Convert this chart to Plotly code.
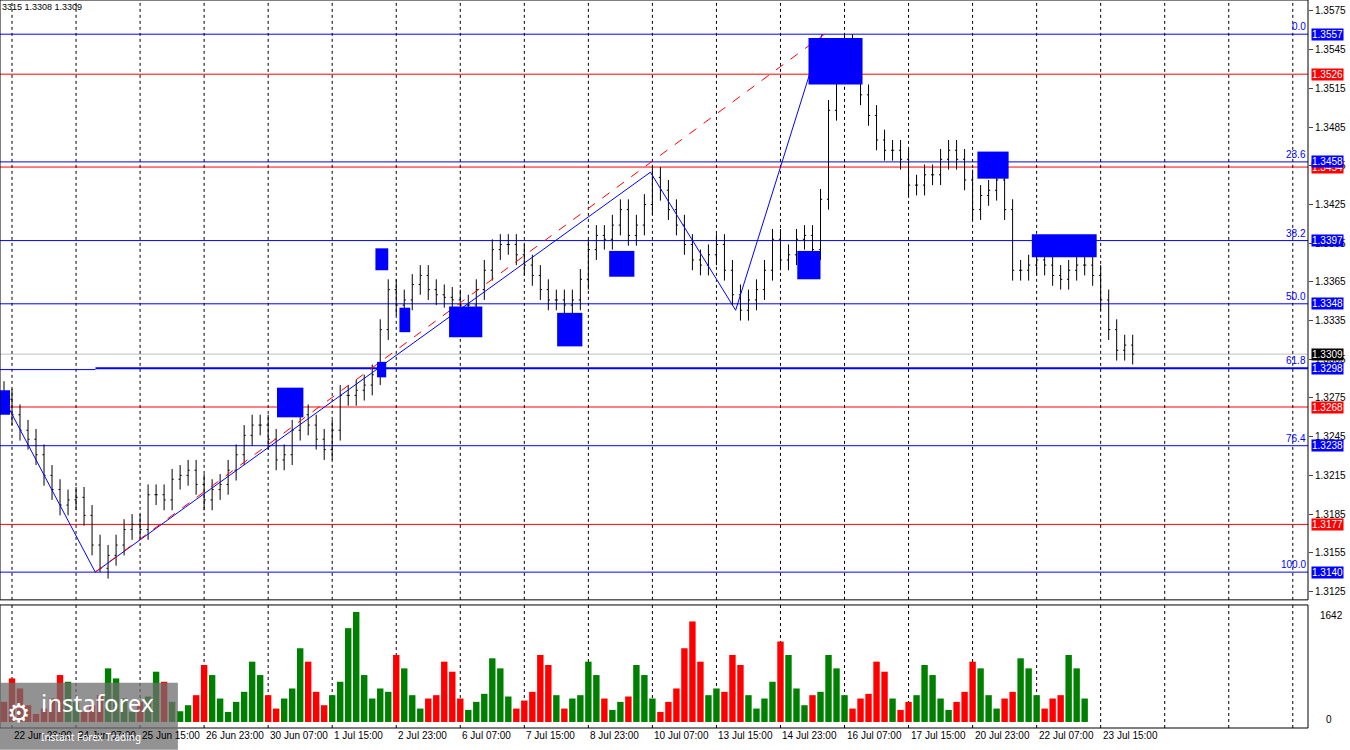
import plotly.graph_objects as go

closes = [1.3274,1.3262,1.3250,1.3243,1.3231,1.3215,1.3204,1.3192,1.3196,1.3198,
1.3184,1.3161,1.3143,1.3153,1.3161,1.3173,1.3177,1.3173,1.3200,1.3200,
1.3196,1.3212,1.3215,1.3219,1.3208,1.3196,1.3204,1.3208,1.3219,1.3231,
1.3246,1.3254,1.3254,1.3243,1.3227,1.3231,1.3250,1.3262,1.3254,1.3243,
1.3235,1.3250,1.3277,1.3277,1.3281,1.3285,1.3293,1.3328,1.3359,1.3347,
1.3351,1.3363,1.3370,1.3359,1.3355,1.3353,1.3351,1.3347,1.3347,1.3359,
1.3374,1.3390,1.3394,1.3394,1.3386,1.3378,1.3370,1.3359,1.3351,1.3351,
1.3347,1.3351,1.3367,1.3390,1.3401,1.3398,1.3409,1.3421,1.3401,1.3409,
1.3425,1.3446,1.3436,1.3421,1.3409,1.3394,1.3382,1.3378,1.3386,1.3394,
1.3374,1.3355,1.3343,1.3351,1.3359,1.3374,1.3398,1.3382,1.3386,1.3398,
1.3401,1.3390,1.3429,1.3498,1.3537,1.3549,1.3529,1.3510,1.3494,1.3475,
1.3467,1.3467,1.3460,1.3440,1.3440,1.3448,1.3448,1.3460,1.3467,1.3460,
1.3444,1.3421,1.3432,1.3436,1.3444,1.3421,1.3374,1.3374,1.3378,1.3382,
1.3378,1.3370,1.3367,1.3374,1.3378,1.3378,1.3370,1.3351,1.3328,1.3312,
1.3316,1.3309]
first_open = 1.3280
wick = [0.0008]*len(closes)
volumes = [300,650,500,250,120,200, 350,700,600,300,150,250, 400,800,650,350,150,300,
 380,750,600,300,160,250, 400,850,700,350,150,300, 450,900,700,400,200,350,
 500,1100,900,450,250,400, 600,1400,1642,700,350,500, 450,1000,800,400,200,350,
 400,900,750,350,180,300, 420,950,800,380,200,320, 450,1000,850,400,200,350,
 400,900,700,350,180,300, 380,850,700,350,150,300, 500,1100,1500,900,400,500,
 450,1000,850,400,200,350, 600,1200,1000,500,250,400, 450,1000,800,400,200,350,
 420,900,750,350,180,300, 400,850,700,350,180,300, 450,900,800,400,200,350,
 450,950,800,400,200,350, 400,1000,800,350]
tick_labels = ["22 Jun 23:00","24 Jun 07:00","25 Jun 15:00","26 Jun 23:00","30 Jun 07:00",
 "1 Jul 15:00","2 Jul 23:00","6 Jul 07:00","7 Jul 15:00","8 Jul 23:00","10 Jul 07:00",
 "13 Jul 15:00","14 Jul 23:00","16 Jul 07:00","17 Jul 15:00","20 Jul 23:00","22 Jul 07:00","23 Jul 15:00"]
fib_levels = [1.3557,1.3458,1.3397,1.3348,1.3298,1.3238,1.3140]
fib_names = ["0.0","23.6","38.2","50.0","61.8","76.4","100.0"]
red_levels = [1.3526,1.3454,1.3268,1.3177]
current = 1.3309
axis_ticks = [1.3575,1.3545,1.3515,1.3485,1.3455,1.3425,1.3395,1.3365,1.3335,1.3305,1.3275,1.3245,1.3215,1.3185,1.3155,1.3125]
boxes = [(-0.5,0.75,1.3281,1.3262),(34.1,37.4,1.3283,1.3260),(46.4,48,1.3391,1.3374),
 (49.4,50.75,1.3345,1.3326),(55.6,59.75,1.3346,1.3322),(69.1,72.25,1.3341,1.3315),
 (75.6,78.75,1.3389,1.3369),(99.1,102,1.3389,1.3367),(100.5,107.25,1.3554,1.3518),
 (121.6,125.5,1.3466,1.3445),(128.4,136.5,1.3402,1.3384),(46.6,47.75,1.3303,1.3291)]
trend_blue = [[(-0.5,1.3280),(11.4,1.3140)],[(11.4,1.3140),(80.75,1.3450)],
 [(80.75,1.3450),(91.4,1.3343),(102.2,1.3557)]]
trend_red = [(11.4,1.3140),(102.5,1.3557)]

n = len(closes)
idx = list(range(n))
opens = [first_open] + closes[:-1]
highs = [max(o, c) + w for o, c, w in zip(opens, closes, wick)]
lows = [min(o, c) - w for o, c, w in zip(opens, closes, wick)]
highs[105] = 1.3557
lows[12] = 1.3140
vcol = ["#008000" if c >= o else "#ff0000" for o, c in zip(opens, closes)]

fig = go.Figure()
fig.add_trace(go.Ohlc(x=idx, open=opens, high=highs, low=lows, close=closes,
    increasing_line_color="black", decreasing_line_color="black", line_width=1,
    tickwidth=0.2, xaxis="x", yaxis="y", showlegend=False))
fig.add_trace(go.Bar(x=idx, y=volumes, marker_color=vcol, marker_line_width=0,
    width=0.8, xaxis="x", yaxis="y2", showlegend=False))

for seg in trend_blue:
    fig.add_trace(go.Scatter(x=[p[0] for p in seg], y=[p[1] for p in seg], mode="lines",
        line=dict(color="#0000ff", width=1), showlegend=False, hoverinfo="skip"))
fig.add_trace(go.Scatter(x=[p[0] for p in trend_red], y=[p[1] for p in trend_red], mode="lines",
    line=dict(color="#ff0000", width=1, dash="dash"), showlegend=False, hoverinfo="skip"))

F = "Liberation Sans"
shapes = []
annots = []
XR = [-0.5, 162.9]
for lv, nm in zip(fib_levels, fib_names):
    w = 2 if nm == "61.8" else 1
    shapes.append(dict(type="line", xref="paper", x0=0 if nm != "61.8" else 0.073, x1=1, yref="y", y0=lv, y1=lv,
        line=dict(color="#0000ff", width=w), layer="below"))
    annots.append(dict(xref="paper", x=1, y=lv, yref="y", text=nm, showarrow=False,
        xanchor="right", yanchor="bottom", font=dict(size=10, color="#0000ff", family=F)))
for lv in red_levels:
    shapes.append(dict(type="line", xref="paper", x0=0, x1=1, yref="y", y0=lv, y1=lv,
        line=dict(color="#ff0000", width=1), layer="below"))
    annots.append(dict(xref="paper", x=1.002, y=lv, yref="y", text=f"{lv:.4f}", showarrow=False,
        xanchor="left", bgcolor="#ff0000", font=dict(size=10, color="white", family=F), borderpad=0))
for lv in fib_levels:
    annots.append(dict(xref="paper", x=1.002, y=lv, yref="y", text=f"{lv:.4f}", showarrow=False,
        xanchor="left", bgcolor="#0000ff", font=dict(size=10, color="white", family=F), borderpad=0))
shapes.append(dict(type="line", xref="paper", x0=0, x1=0.073, yref="y", y0=1.3297, y1=1.3297,
    line=dict(color="#0000ff", width=1)))
shapes.append(dict(type="line", xref="paper", x0=0, x1=1, yref="y", y0=current, y1=current,
    line=dict(color="#c0c0c0", width=1), layer="below"))
annots.append(dict(xref="paper", x=1.002, y=current, yref="y", text=f"{current:.4f}", showarrow=False,
    xanchor="left", bgcolor="black", font=dict(size=10, color="white", family=F), borderpad=0))
for b in boxes:
    shapes.append(dict(type="rect", xref="x", yref="y", x0=b[0], x1=b[1], y0=b[3], y1=b[2],
        fillcolor="#0000ff", line=dict(color="#0000ff", width=0)))
for k in range(21):
    gx = 1 + 8 * k
    for yr in ["y domain", "y2 domain"]:
        shapes.append(dict(type="line", xref="x", x0=gx, x1=gx, yref=yr, y0=0, y1=1,
            line=dict(color="black", width=1, dash="3px,3px"), layer="below"))
    if k < len(tick_labels):
        annots.append(dict(xref="x", x=gx, yref="paper", y=0, yanchor="top", xanchor="left",
            text=tick_labels[k], showarrow=False, font=dict(size=10, color="black", family=F)))
shapes.append(dict(type="rect", xref="paper", yref="paper", x0=0, x1=1, y0=0.176, y1=1, line=dict(color="black", width=1)))
shapes.append(dict(type="rect", xref="paper", yref="paper", x0=0, x1=1, y0=0, y1=0.169, line=dict(color="black", width=1)))
annots.append(dict(xref="paper", yref="paper", x=0, y=1, xanchor="left", yanchor="top", text="3315 1.3308 1.3309",
    showarrow=False, font=dict(size=9, color="black", family=F)))
annots.append(dict(xref="paper", yref="paper", x=1.008, y=0.155, xanchor="left", yanchor="middle", text="1642",
    showarrow=False, font=dict(size=10, color="black", family=F)))
annots.append(dict(xref="paper", yref="paper", x=1.012, y=0.012, xanchor="left", yanchor="middle", text="0",
    showarrow=False, font=dict(size=10, color="black", family=F)))
shapes.append(dict(type="rect", xref="paper", yref="paper", x0=0, x1=0.136, y0=-0.03, y1=0.062,
    fillcolor="rgba(110,110,110,0.75)", line=dict(width=0)))
annots.append(dict(xref="paper", yref="paper", x=0.03, y=0.06, xanchor="left", yanchor="top", text="instaforex",
    showarrow=False, font=dict(size=24, color="white", family="Noto Sans")))
annots.append(dict(xref="paper", yref="paper", x=0.03, y=0.0, xanchor="left", yanchor="top", text="Instant Forex Trading",
    showarrow=False, font=dict(size=10, color="white", family="Noto Sans")))
annots.append(dict(xref="paper", yref="paper", x=0.004, y=0.05, xanchor="left", yanchor="top", text="⚙",
    showarrow=False, font=dict(size=26, color="white")))

fig.update_layout(width=1350, height=750, margin=dict(l=0, r=42, t=0, b=22),
    paper_bgcolor="white", plot_bgcolor="white", shapes=shapes, annotations=annots,
    xaxis=dict(range=XR, showticklabels=False, showgrid=False, zeroline=False, rangeslider=dict(visible=False)),
    yaxis=dict(domain=[0.176, 1], range=[1.31185, 1.35835], side="right", tickvals=axis_ticks,
        ticktext=[f"{v:.4f}" for v in axis_ticks], ticks="outside", ticklen=4, showgrid=False, zeroline=False,
        tickfont=dict(size=10, color="black", family=F)),
    yaxis2=dict(domain=[0, 0.169], range=[-90, 1746], side="right", showticklabels=False,
        showgrid=False, zeroline=False),
    bargap=0.1)
fig.write_html("out.html", config={"displayModeBar": False},
    post_script="document.body.style.margin='0';document.body.style.overflow='hidden';")
